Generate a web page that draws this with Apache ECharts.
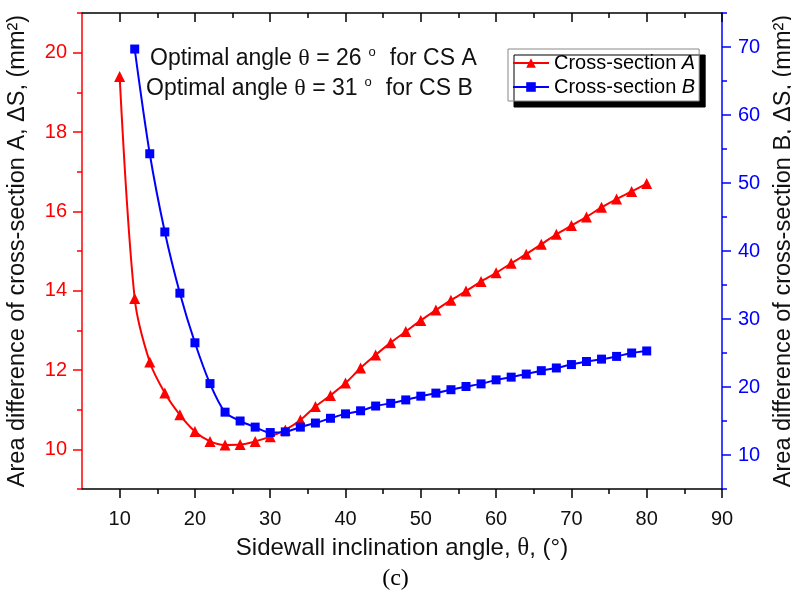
<!DOCTYPE html>
<html>
<head>
<meta charset="utf-8">
<script src="https://cdn.jsdelivr.net/npm/echarts@6/dist/echarts.min.js"></script>
<style>
  html, body { margin: 0; padding: 0; background: #fff; }
  #chart { width: 791px; height: 602px; }
</style>
</head>
<body>
<div id="chart"></div>
<script>
// sidewall angle (deg)
const anglesA = [10, 12, 14, 16, 18, 20, 22, 24, 26, 28, 30, 32, 34, 36, 38, 40, 42, 44, 46, 48,
  50, 52, 54, 56, 58, 60, 62, 64, 66, 68, 70, 72, 74, 76, 78, 80];
const anglesB = [12, 14, 16, 18, 20, 22, 24, 26, 28, 30, 32, 34, 36, 38, 40, 42, 44, 46, 48,
  50, 52, 54, 56, 58, 60, 62, 64, 66, 68, 70, 72, 74, 76, 78, 80];
// area difference, mm2
const areaA = [19.4, 13.8, 12.2, 11.42, 10.87, 10.45, 10.2, 10.11, 10.12, 10.2, 10.32, 10.49, 10.74,
  11.08, 11.36, 11.67, 12.05, 12.38, 12.69, 12.97, 13.25, 13.51, 13.76, 13.99, 14.23, 14.45, 14.69,
  14.92, 15.17, 15.42, 15.64, 15.86, 16.1, 16.31, 16.5, 16.7];
const areaB = [69.7, 54.3, 42.8, 33.8, 26.5, 20.5, 16.3, 15.0, 14.1, 13.3, 13.4, 14.1, 14.7, 15.4,
  16.05, 16.5, 17.2, 17.6, 18.1, 18.65, 19.1, 19.6, 20.07, 20.46, 21.05, 21.45, 21.9, 22.4, 22.8,
  23.3, 23.75, 24.1, 24.5, 25.0, 25.3];

const xMajor = [10, 20, 30, 40, 50, 60, 70, 80, 90];
const xMinor = [15, 25, 35, 45, 55, 65, 75, 85];
const leftMajor = [10, 12, 14, 16, 18, 20];
const leftMinor = [9, 11, 13, 15, 17, 19, 21];
const rightMajor = [10, 20, 30, 40, 50, 60, 70];
const rightMinor = [5, 15, 25, 35, 45, 55, 65, 75];

const FONT = 'Liberation Sans';
const SERIF = 'Liberation Serif';
const RED = '#ff0000';
const BLUE = '#0000ff';

const chart = echarts.init(document.getElementById('chart'));

const pairs = (xs, ys) => xs.map((x, i) => [x, ys[i]]);

const xBase = {
  type: 'value', min: 5, max: 90, gridIndex: 0,
  splitLine: { show: false }
};

const noteRich = {
  t: { fontFamily: FONT, fontSize: 23, fill: '#111' },
  g: { fontFamily: SERIF, fontSize: 24, fill: '#111' },
  s: { fontFamily: FONT, fontSize: 13, fill: '#111', padding: [0, 14, 12, 7] }
};

chart.setOption({
  animation: false,
  textStyle: { fontFamily: FONT },
  title: {
    text: '(c)',
    left: 'center', top: 562,
    textStyle: { fontFamily: SERIF, fontSize: 24, fontWeight: 'normal', color: '#000' }
  },
  grid: { left: 82, right: 69, top: 13, bottom: 113, containLabel: false, outerBoundsMode: 'none' },
  legend: {
    orient: 'vertical',
    left: 508, top: 49,
    padding: [4, 4, 4, 4],
    itemGap: 4,
    itemWidth: 36, itemHeight: 12,
    backgroundColor: '#fff',
    borderColor: '#888', borderWidth: 1,
    shadowColor: '#000', shadowBlur: 0, shadowOffsetX: 6, shadowOffsetY: 6,
    data: ['Cross-section A', 'Cross-section B'],
    formatter: name => '{n|Cross-section }{i|' + name.slice(-1) + '}',
    textStyle: {
      rich: {
        n: { fontFamily: FONT, fontSize: 20, color: '#000' },
        i: { fontFamily: FONT, fontSize: 20, fontStyle: 'italic', color: '#000' }
      }
    }
  },
  xAxis: [
    Object.assign({}, xBase, {
      position: 'bottom',
      axisLine: { lineStyle: { color: '#000', width: 1.5 } },
      axisTick: { customValues: xMajor, length: 9, lineStyle: { color: '#000', width: 1.5 } },
      axisLabel: { customValues: xMajor, margin: 20, fontSize: 20, color: '#111' },
      name: '{t|Sidewall inclination angle, }{g|θ}{t|, (°)}',
      nameLocation: 'middle', nameGap: 47,
      nameTextStyle: {
        rich: {
          t: { fontFamily: FONT, fontSize: 24, color: '#111' },
          g: { fontFamily: SERIF, fontSize: 25, color: '#111' }
        }
      }
    }),
    Object.assign({}, xBase, {
      position: 'bottom',
      axisLine: { show: false },
      axisTick: { customValues: xMinor, length: 5, lineStyle: { color: '#000', width: 1.5 } },
      axisLabel: { show: false }
    }),
    Object.assign({}, xBase, {
      position: 'top',
      axisLine: { lineStyle: { color: '#000', width: 1.5 } },
      axisTick: { inside: true, customValues: xMajor, length: 9, lineStyle: { color: '#000', width: 1.5 } },
      axisLabel: { show: false }
    }),
    Object.assign({}, xBase, {
      position: 'top',
      axisLine: { show: false },
      axisTick: { inside: true, customValues: xMinor, length: 5, lineStyle: { color: '#000', width: 1.5 } },
      axisLabel: { show: false }
    })
  ],
  yAxis: [
    {
      type: 'value', position: 'left', min: 9, max: 21,
      splitLine: { show: false },
      axisLine: { show: true, lineStyle: { color: RED, width: 1.5 } },
      axisTick: { show: true, customValues: leftMajor, length: 9, lineStyle: { color: RED, width: 1.5 } },
      axisLabel: { customValues: leftMajor, margin: 15, fontSize: 20, color: RED },
      name: '{t|Area difference of cross-section A, ΔS, (mm²)}',
      nameLocation: 'middle', nameGap: 52, nameRotate: 90,
      nameTextStyle: { rich: { t: { fontFamily: FONT, fontSize: 23.5, color: '#111' } } }
    },
    {
      type: 'value', position: 'left', min: 9, max: 21,
      splitLine: { show: false },
      axisLine: { show: false },
      axisTick: { show: true, customValues: leftMinor, length: 5, lineStyle: { color: RED, width: 1.5 } },
      axisLabel: { show: false }
    },
    {
      type: 'value', position: 'right', min: 5, max: 75,
      splitLine: { show: false },
      axisLine: { show: true, lineStyle: { color: BLUE, width: 1.5 } },
      axisTick: { show: true, customValues: rightMajor, length: 9, lineStyle: { color: BLUE, width: 1.5 } },
      axisLabel: { customValues: rightMajor, margin: 16, fontSize: 20, color: BLUE },
      name: '{t|Area difference of cross-section B, ΔS, (mm²)}',
      nameLocation: 'middle', nameGap: 39, nameRotate: 90,
      nameTextStyle: { rich: { t: { fontFamily: FONT, fontSize: 23.5, color: '#111' } } }
    },
    {
      type: 'value', position: 'right', min: 5, max: 75,
      splitLine: { show: false },
      axisLine: { show: false },
      axisTick: { show: true, customValues: rightMinor, length: 5, lineStyle: { color: BLUE, width: 1.5 } },
      axisLabel: { show: false }
    }
  ],
  graphic: [
    {
      type: 'text', left: 150, top: 46,
      style: { text: '{t|Optimal angle }{g|θ}{t| = 26}{s|o}{t|for CS A}', rich: noteRich }
    },
    {
      type: 'text', left: 146, top: 76,
      style: { text: '{t|Optimal angle }{g|θ}{t| = 31}{s|o}{t|for CS B}', rich: noteRich }
    }
  ],
  series: [
    {
      name: 'Cross-section A',
      type: 'line',
      xAxisIndex: 0, yAxisIndex: 0,
      data: pairs(anglesA, areaA),
      smooth: 0.3,
      symbol: 'triangle', symbolSize: 11,
      lineStyle: { color: RED, width: 2 },
      itemStyle: { color: RED }
    },
    {
      name: 'Cross-section B',
      type: 'line',
      xAxisIndex: 0, yAxisIndex: 2,
      data: pairs(anglesB, areaB),
      smooth: 0.3,
      symbol: 'rect', symbolSize: 9,
      lineStyle: { color: BLUE, width: 2 },
      itemStyle: { color: BLUE }
    }
  ]
});
</script>
</body>
</html>
